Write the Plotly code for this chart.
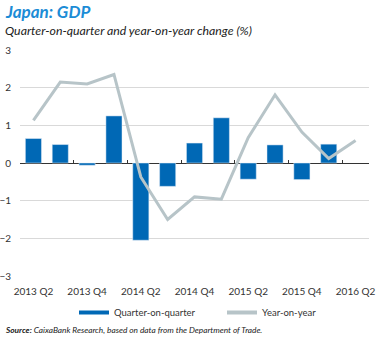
import plotly.graph_objects as go

quarters = ["2013 Q2", "2013 Q3", "2013 Q4", "2014 Q1", "2014 Q2", "2014 Q3", "2014 Q4",
            "2015 Q1", "2015 Q2", "2015 Q3", "2015 Q4", "2016 Q1", "2016 Q2"]
qoq = [0.65, 0.49, -0.06, 1.25, -2.05, -0.62, 0.53, 1.2, -0.43, 0.48, -0.44, 0.5, None]
yoy = [1.13, 2.15, 2.1, 2.35, -0.37, -1.5, -0.9, -0.96, 0.67, 1.81, 0.82, 0.12, 0.6]
tick_labels = ["2013 Q2", "2013 Q4", "2014 Q2", "2014 Q4", "2015 Q2", "2015 Q4", "2016 Q2"]

BLUE = "#0068b5"
GREY = "#b7c4c8"
FONT = "Lato"

W, H = 383, 338
ml, mr, mt, mb = 20, 14, 50, 62
pw, ph = W - ml - mr, H - mt - mb

def px_x(x):
    return (x - ml) / pw

def px_y(y):
    return (H - mb - y) / ph

fig = go.Figure()
fig.add_trace(go.Bar(x=quarters, y=qoq, marker_color=BLUE, width=0.6,
                     showlegend=False, name="Quarter-on-quarter"))
fig.add_trace(go.Scatter(x=quarters, y=yoy, mode="lines",
                         line=dict(color=GREY, width=3), showlegend=False,
                         name="Year-on-year"))
# legend entries
fig.add_trace(go.Scatter(x=[None], y=[None], mode="lines", name="Quarter-on-quarter",
                         line=dict(color=BLUE, width=4)))
fig.add_trace(go.Scatter(x=[None], y=[None], mode="lines", name="Year-on-year",
                         line=dict(color=GREY, width=4)))
# helper axis for small ticks on the zero line
fig.add_trace(go.Scatter(x=[None], y=[None], xaxis="x2", showlegend=False))

fig.update_layout(
    width=W, height=H,
    margin=dict(l=ml, r=mr, t=mt, b=mb, autoexpand=False),
    paper_bgcolor="white", plot_bgcolor="white",
    font=dict(family=FONT, size=10, color="#333333"),
    bargap=0.4,
    xaxis=dict(type="category", categoryorder="array", categoryarray=quarters,
               range=[-0.5, len(quarters) - 0.5],
               tickmode="array", tickvals=tick_labels, ticktext=tick_labels,
               showgrid=False, zeroline=False, showline=False, ticks="",
               tickfont=dict(size=10, color="#333333"), ticklabelstandoff=8),
    xaxis2=dict(overlaying="x", side="top", anchor="free", position=0.5,
                range=[-0.5, len(quarters) - 0.5],
                tickmode="array", tickvals=[1.5, 3.5, 5.5, 7.5, 9.5, 11.5],
                ticks="outside", ticklen=3, tickcolor="#333333", tickwidth=1,
                showticklabels=False, showgrid=False, zeroline=False, showline=False),
    yaxis=dict(range=[-3, 3], dtick=1, tick0=0, showgrid=True, gridcolor="#d9d9d9",
               gridwidth=1, zeroline=True, zerolinecolor="#333333", zerolinewidth=1,
               ticks="", ticklabelstandoff=8, tickfont=dict(size=10, color="#333333")),
    legend=dict(orientation="h", xref="paper", yref="paper",
                x=px_x(74), y=px_y(298), xanchor="left", yanchor="top",
                font=dict(size=9.5, color="#333333"), itemwidth=30,
                entrywidth=103, entrywidthmode="pixels",
                bgcolor="rgba(0,0,0,0)"),
    annotations=[
        dict(text="<b><i>Japan: GDP</i></b>", x=px_x(3), y=px_y(12), xref="paper", yref="paper",
             xanchor="left", yanchor="middle", showarrow=False,
             font=dict(size=17, color="#1b8cd6", family=FONT)),
        dict(text="<i>Quarter-on-quarter and year-on-year change (%)</i>", x=px_x(3), y=px_y(30),
             xref="paper", yref="paper", xanchor="left", yanchor="middle", showarrow=False,
             font=dict(size=12.3, color="#222222", family=FONT)),
        dict(text="<b><i>Source:</i></b><i> CaixaBank Research, based on data from the Department of Trade.</i>",
             x=px_x(3), y=px_y(330), xref="paper", yref="paper", xanchor="left", yanchor="middle",
             showarrow=False, font=dict(size=8.3, color="#222222", family=FONT)),
    ],
)

fig.write_html("out.html")
